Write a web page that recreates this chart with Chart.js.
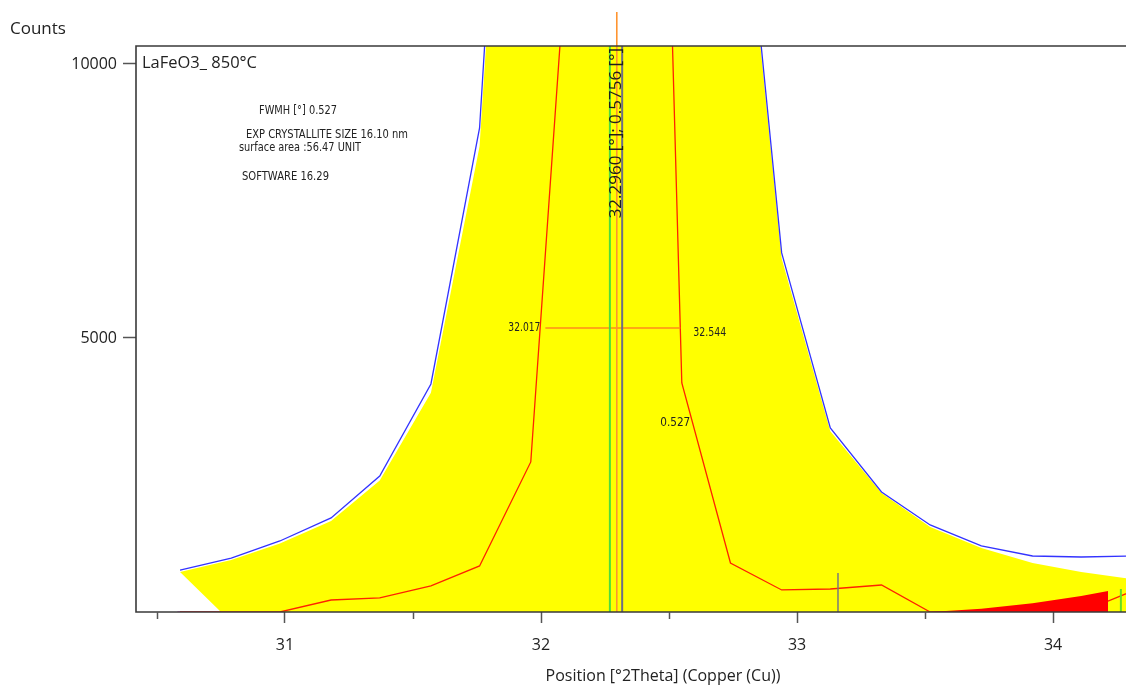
<!DOCTYPE html>
<html lang="en">
<head>
<meta charset="UTF-8">
<title>LaFeO3 850°C - peak profile</title>
<script src="https://cdn.jsdelivr.net/npm/chart.js"></script>
<style>
    html, body { margin: 0; padding: 0; background: #ffffff; }
    #wrap { width: 1126px; height: 686px; }
</style>
</head>
<body>
<div id="wrap"><canvas id="xrd" width="1126" height="686"></canvas></div>
<script>
// scan positions [°2Theta]
const twoTheta = [30.59, 30.79, 30.98, 31.18, 31.37, 31.57, 31.76, 31.96, 32.15, 32.35,
                  32.55, 32.74, 32.94, 33.13, 33.33, 33.52, 33.72, 33.92, 34.11, 34.31];
// measured counts (blue)
const observed = [766, 985, 1296, 1716, 2482, 4161, 8833, 24000, 52000, 60000,
                  38000, 16000, 6552, 3358, 2190, 1588, 1205, 1022, 1004, 1022];
// calculated profile (yellow area)
const calculated = [730, 950, 1250, 1660, 2400, 4000, 8500, 23000, 50000, 58000,
                    37000, 15800, 6450, 3300, 2170, 1551, 1168, 894, 730, 602];
// lower edge of the yellow area
const calcBaseX = [30.59, 30.75, 34.31];
const calcBaseY = [730, 0, 0];
// difference / stripped profile (red line)
const profile = [0, 0, 0, 219, 256, 475, 840, 2738, 15400, 38000,
                 4180, 894, 402, 420, 493, 0, 0, 0, 0, 380];
// red area on the right
const residX = [33.52, 33.72, 33.92, 34.11, 34.215, 34.215];
const residY = [0, 60, 160, 290, 383, 0];
// background stretch at the left
const bgX = [30.58, 30.75];
const bgY = [0, 0];

// peak markers
const peakPos = 32.2960;
const peakWidth = 0.5756;
const greenLine = 32.269;
const greyLine = 32.317;
const fwhmStart = 32.017;
const fwhmEnd = 32.544;
const fwhmValue = 0.527;
const fwhmLevel = 5183;
// reference sticks
const stickX = [33.16, 34.265];
const stickY = [712, 420];
const stickColor = ['#7a7a7a', '#66dd22'];

const xMin = 30.418, xMax = 34.285;
const yMax = 10328;
const xTicks = [30.5, 31, 31.5, 32, 32.5, 33, 33.5, 34];
const yTicks = [5000, 10000];

const sampleName = 'LaFeO3_ 850°C';
const xTitle = 'Position [°2Theta] (Copper (Cu))';
const infoLines = ['FWMH [°] 0.527', 'EXP CRYSTALLITE SIZE 16.10 nm', 'surface area :56.47 UNIT', 'SOFTWARE 16.29'];

const pts = (xs, ys) => xs.map((x, i) => ({ x: x, y: ys[i] }));
const vline = (x, top) => [{ x: x, y: 0 }, { x: x, y: top }];

Chart.defaults.font.family = "'Open Sans', 'Noto Sans', sans-serif";
Chart.defaults.color = '#222';

const narrow = "'Liberation Sans Narrow', 'DejaVu Sans Condensed', 'Liberation Sans', sans-serif";

// text, frame and minor ticks
const decor = {
    id: 'decor',
    afterDatasetsDraw(chart) {
        const c = chart.ctx, a = chart.chartArea;
        const xs = chart.scales.x, ys = chart.scales.y;
        c.save();

        // frame: top, left, bottom
        c.strokeStyle = '#3a3a3a';
        c.lineWidth = 1.6;
        c.beginPath();
        c.moveTo(a.right, a.top);
        c.lineTo(a.left, a.top);
        c.lineTo(a.left, a.bottom);
        c.lineTo(a.right, a.bottom);
        c.stroke();

        // minor ticks
        c.lineWidth = 1.5;
        c.strokeStyle = '#555';
        xTicks.filter(v => v % 1 !== 0).forEach(v => {
            const px = Math.round(xs.getPixelForValue(v)) + 0.5;
            c.beginPath();
            c.moveTo(px, a.bottom);
            c.lineTo(px, a.bottom + 7);
            c.stroke();
        });

        c.fillStyle = '#222';
        c.textBaseline = 'middle';

        c.font = "17px 'Open Sans', sans-serif";
        c.textAlign = 'left';
        c.fillText('Counts', 10, 29);
        c.fillText(sampleName, a.left + 6, a.top + 17, 115);

        // axis title, centred on the full scan width
        c.font = "16px 'Open Sans', sans-serif";
        c.textAlign = 'center';
        c.fillText(xTitle, (a.left + a.right) / 2 + 32, chart.height - 10);

        c.font = '12px ' + narrow;
        c.textAlign = 'left';
        c.fillText(infoLines[0], a.left + 123, a.top + 65, 78);
        c.fillText(infoLines[1], a.left + 110, a.top + 89, 162);
        c.fillText(infoLines[2], a.left + 103, a.top + 102, 122);
        c.fillText(infoLines[3], a.left + 106, a.top + 131, 87);

        // FWHM labels
        c.textAlign = 'right';
        c.fillText(fwhmStart.toFixed(3), xs.getPixelForValue(fwhmStart) - 5, ys.getPixelForValue(fwhmLevel), 32);
        c.textAlign = 'left';
        c.fillText(fwhmEnd.toFixed(3), xs.getPixelForValue(fwhmEnd) + 13, ys.getPixelForValue(fwhmLevel) + 5, 33);
        c.fillText(fwhmValue.toFixed(3), xs.getPixelForValue(fwhmEnd) - 20, ys.getPixelForValue(fwhmLevel) + 95, 30);

        // rotated peak label
        const label = peakPos.toFixed(4) + ' [°]; ' + peakWidth.toFixed(4) + ' [°]';
        c.translate(xs.getPixelForValue(peakPos) - 0.5, a.top + 2);
        c.rotate(-Math.PI / 2);
        c.font = "17px 'Open Sans', sans-serif";
        c.textAlign = 'right';
        c.fillStyle = '#1e1e1e';
        c.fillText(label, 0, 0, 174);
        c.restore();
    }
};

new Chart(document.getElementById('xrd'), {
    type: 'line',
    data: {
        datasets: [
            { // 0 calculated area
                data: pts(twoTheta, calculated),
                borderWidth: 0, borderColor: 'rgba(0,0,0,0)',
                backgroundColor: '#ffff00',
                fill: 1, order: 20
            },
            { // 1 lower edge of the area
                data: pts(calcBaseX, calcBaseY),
                borderWidth: 0, borderColor: 'rgba(0,0,0,0)',
                fill: false, order: 21
            },
            { // 2 background stretch
                data: pts(bgX, bgY),
                borderColor: '#e060e0', borderWidth: 1.5, fill: false, order: 15
            },
            { // 3 red area
                data: pts(residX, residY),
                borderWidth: 0, borderColor: 'rgba(0,0,0,0)',
                backgroundColor: '#ff0000', fill: 'origin', order: 6
            },
            { // 4 red profile
                data: pts(twoTheta, profile),
                borderColor: '#ff2200', borderWidth: 1.3, fill: false, order: 7
            },
            { // 5 observed
                data: pts(twoTheta, observed),
                borderColor: '#3333ff', borderWidth: 1.3, fill: false, order: 5
            },
            { // 6 fwhm bar
                data: [{ x: fwhmStart, y: fwhmLevel }, { x: fwhmEnd, y: fwhmLevel }],
                borderColor: '#ff8c1a', borderWidth: 1.5, fill: false, order: 4
            },
            { // 7 green marker
                data: vline(greenLine, yMax),
                borderColor: '#4edc3c', borderWidth: 2, fill: false, order: 3
            },
            { // 8 peak position, runs past the top
                data: vline(peakPos, 10950),
                borderColor: '#ff9430', borderWidth: 1.6, fill: false, order: 2, clip: false
            },
            { // 9 grey marker
                data: vline(greyLine, yMax),
                borderColor: '#6e6e86', borderWidth: 2, fill: false, order: 1
            },
            { // 10, 11 reference sticks
                data: vline(stickX[0], stickY[0]),
                borderColor: stickColor[0], borderWidth: 1.5, fill: false, order: 0
            },
            {
                data: vline(stickX[1], stickY[1]),
                borderColor: stickColor[1], borderWidth: 2, fill: false, order: 0
            }
        ]
    },
    options: {
        responsive: false,
        animation: false,
        devicePixelRatio: 1,
        elements: { point: { radius: 0, hoverRadius: 0 }, line: { tension: 0 } },
        layout: { padding: { top: 46, left: 0, right: 0, bottom: 0 } },
        plugins: { legend: { display: false }, tooltip: { enabled: false } },
        scales: {
            x: {
                type: 'linear',
                min: xMin, max: xMax,
                afterBuildTicks: s => { s.ticks = xTicks.map(v => ({ value: v })); },
                afterFit: s => { s.height = 74; },
                border: { display: false },
                grid: {
                    drawOnChartArea: false,
                    tickLength: 11,
                    tickWidth: 1.5,
                    tickColor: ctx => (ctx.tick && ctx.tick.value % 1 === 0) ? '#555' : 'rgba(0,0,0,0)'
                },
                ticks: {
                    autoSkip: false, maxRotation: 0,
                    padding: 13,
                    font: { size: 16 }, color: '#222',
                    callback: v => (v % 1 === 0 ? String(v) : '')
                }
            },
            y: {
                type: 'linear',
                min: 0, max: yMax,
                afterBuildTicks: s => { s.ticks = yTicks.map(v => ({ value: v })); },
                afterFit: s => { s.width = 136; },
                border: { display: false },
                grid: {
                    drawOnChartArea: false,
                    tickLength: 13,
                    tickWidth: 1.5,
                    tickColor: '#555'
                },
                ticks: {
                    padding: 6,
                    font: { size: 16 }, color: '#222',
                    callback: v => String(v)
                }
            }
        }
    },
    plugins: [decor]
});
</script>
</body>
</html>
